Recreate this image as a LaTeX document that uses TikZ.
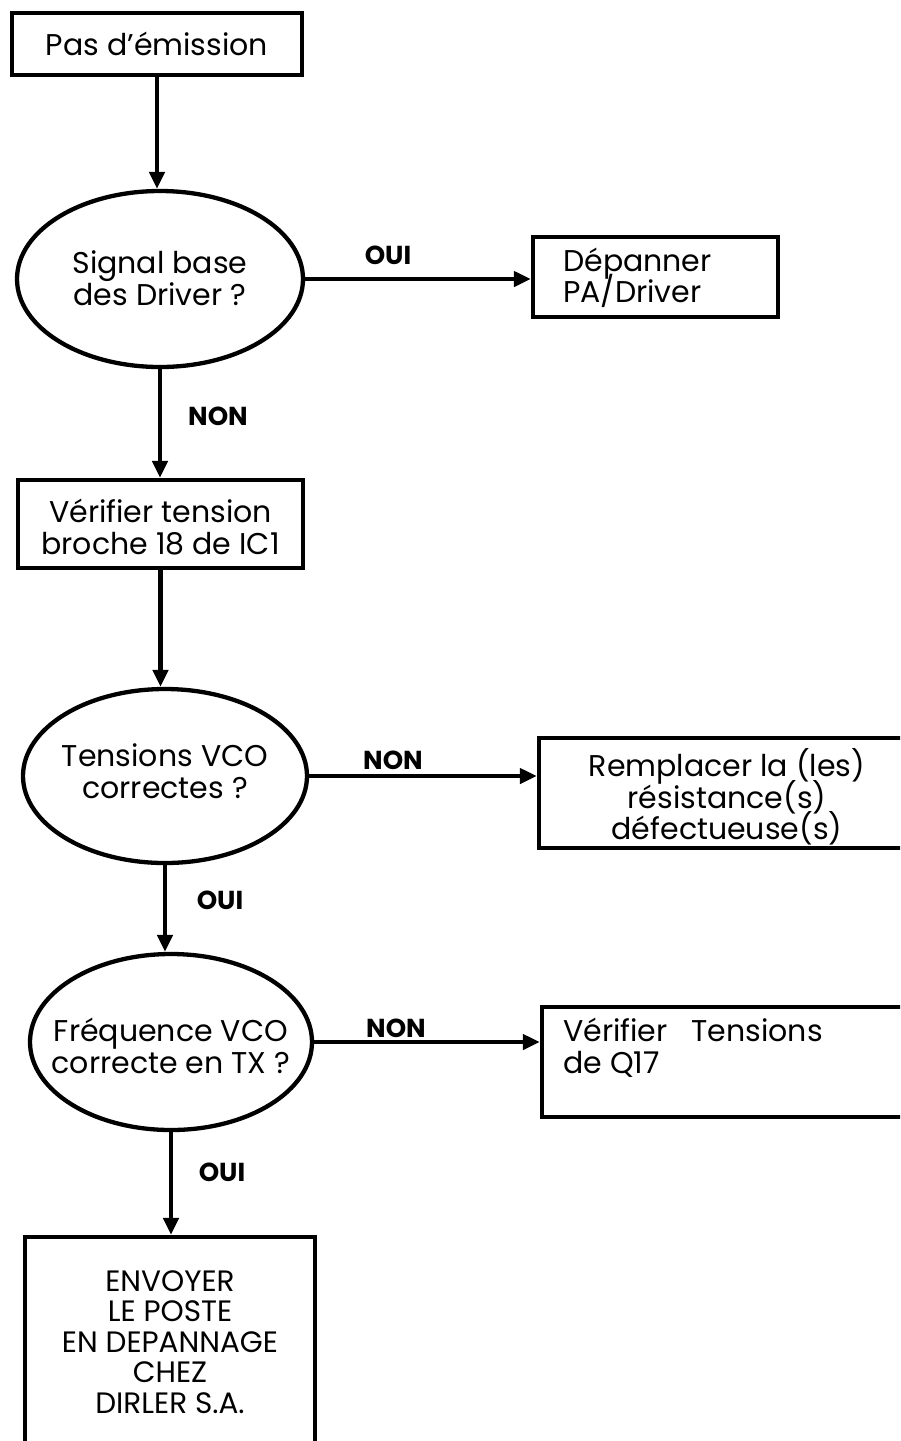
\documentclass[tikz,border=0pt]{standalone}
\usepackage{fontspec}
\setmainfont{Poppins}
\usetikzlibrary{shapes.geometric,arrows.meta}
\newcommand{\mytightlines}{\lineskiplimit=-100pt\relax\lineskip=0pt\relax}
\begin{document}
\begin{tikzpicture}[x=1pt,y=-1pt,
  every node/.style={font=\fontsize{30}{31.5}\selectfont\mytightlines, text=black},
  boxnode/.style={draw, line width=4.3pt, rectangle, inner sep=0pt},
  decision/.style={draw, line width=4.3pt, ellipse, inner sep=0pt},
  txt/.style={align=center, inner sep=0pt},
  lab/.style={font=\fontsize{26}{28}\selectfont\bfseries, inner sep=0pt},
  conn/.style={line width=4.3pt, -{Triangle[length=17pt,width=15pt]}}
]
\useasboundingbox (0,0) rectangle (900,1441);
\clip (0,0) rectangle (900,1441);
\fill[white] (0,0) rectangle (900,1441);

% nodes
\node[boxnode, minimum width=290pt, minimum height=62pt] (b1) at (157,44) {};
\node[txt] (t1) at (157,44) {Pas d'émission};

\node[decision, minimum width=286pt, minimum height=176pt] (e1) at (160,279) {};
\node[txt] (te1) at (160,278) {Signal base\\des Driver ?};

\node[boxnode, minimum width=245pt, minimum height=80pt] (b2) at (655.5,277) {};
\node[align=left, inner sep=0pt, anchor=west] (t2) at (563,278) {Dépanner\\PA/Driver};

\node[boxnode, minimum width=285pt, minimum height=88pt] (b3) at (160.5,524) {};
\node[txt] (t3) at (160.5,527) {Vérifier tension\\broche 18 de IC1};

\node[decision, minimum width=284pt, minimum height=174pt] (e2) at (165,776) {};
\node[txt] (te2) at (165,771) {Tensions VCO\\correctes ?};

\node[boxnode, minimum width=366pt, minimum height=110pt] (b4) at (722,793) {};
\node[txt] (t4) at (727,797) {Remplacer la (les)\\résistance(s)\\défectueuse(s)};

\node[decision, minimum width=282pt, minimum height=176pt] (e3) at (171,1042) {};
\node[txt] (te3) at (171,1046) {Fréquence VCO\\correcte en TX ?};

\node[boxnode, minimum width=363pt, minimum height=110pt] (b5) at (723.5,1062) {};
\node[align=left, inner sep=0pt, anchor=north west] (t5) at (563,1018) {Vérifier\hspace{0.8em}Tensions\\de Q17};

\node[boxnode, minimum width=290pt, minimum height=213pt] (b6) at (170,1343.5) {};
\node[txt, font=\fontsize{29.5}{30.5}\selectfont\mytightlines] (t6) at (170,1342) {ENVOYER\\LE POSTE\\EN DEPANNAGE\\CHEZ\\DIRLER S.A.};

% connectors
\draw[conn] (b1.south) -- (b1.south |- e1.north);
\draw[conn] (e1.east) -- (e1.east -| b2.west);
\draw[conn] (e1.south) -- (e1.south |- b3.north);
\draw[conn] (b3.south) -- (b3.south |- e2.north);
\draw[conn] (e2.east) -- (e2.east -| b4.west);
\draw[conn] (e2.south) -- (e2.south |- e3.north);
\draw[conn] (e3.east) -- (e3.east -| b5.west);
\draw[conn] (e3.south) -- (e3.south |- b6.north);

% labels
\node[lab] (l1) at (388,255) {OUI};
\node[lab] (l2) at (218,416) {NON};
\node[lab] (l3) at (393,760) {NON};
\node[lab] (l4) at (220,900) {OUI};
\node[lab] (l5) at (396,1028) {NON};
\node[lab] (l6) at (222,1172) {OUI};
\end{tikzpicture}
\end{document}
